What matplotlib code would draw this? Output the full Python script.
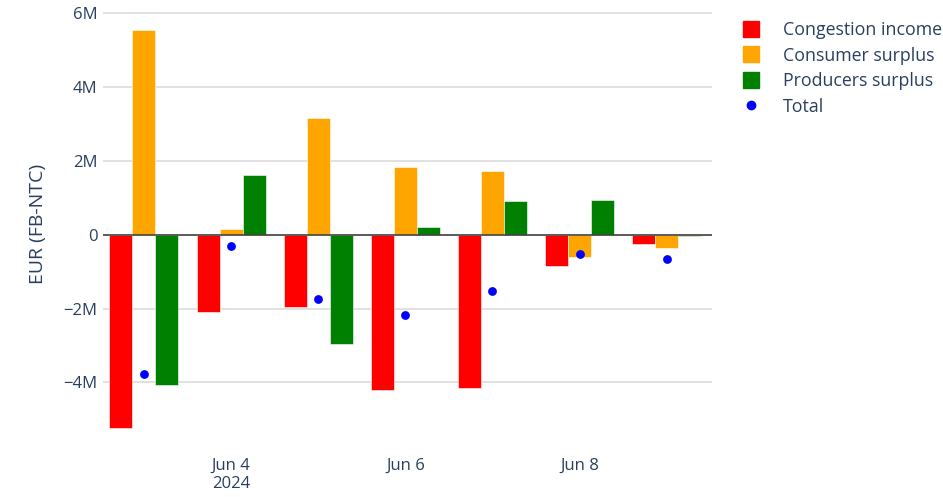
import numpy as np
import pandas as pd
import matplotlib
matplotlib.use("Agg")
import matplotlib.pyplot as plt
import matplotlib.dates as mdates
from matplotlib.lines import Line2D

# daily values, EUR
days = pd.date_range("2024-06-03", "2024-06-09", freq="D")
congestion = [-5.24e6, -2.10e6, -1.96e6, -4.21e6, -4.15e6, -0.84e6, -0.26e6]
consumer = [5.55e6, 0.16e6, 3.16e6, 1.83e6, 1.73e6, -0.61e6, -0.35e6]
producers = [-4.07e6, 1.62e6, -2.96e6, 0.20e6, 0.90e6, 0.94e6, -0.04e6]
total = [-3.77e6, -0.31e6, -1.74e6, -2.18e6, -1.52e6, -0.51e6, -0.67e6]

xtick_dates = ["2024-06-04", "2024-06-06", "2024-06-08"]
xtick_labels = ["Jun 4\n2024", "Jun 6", "Jun 8"]
ytick_vals = [-4e6, -2e6, 0, 2e6, 4e6, 6e6]
ytick_labels = ["\u22124M", "\u22122M", "0", "2M", "4M", "6M"]

plt.rcParams['font.family'] = ['Open Sans', 'DejaVu Sans']
txt = "#2a3f5f"

fig = plt.figure(figsize=(9.43, 4.97), dpi=100)
ax = fig.add_axes([103/943, 1 - 440/497, (712-103)/943, (440-8)/497])

x = mdates.date2num(days)
w = 0.264
series = [(congestion, "#ff0000", "Congestion income", -w),
          (consumer, "#ffa500", "Consumer surplus", 0),
          (producers, "#008000", "Producers surplus", w)]
for vals, col, name, off in series:
    ax.bar(x + off, vals, width=w, color=col, edgecolor="white", linewidth=0.4, zorder=3)
ax.scatter(x, total, s=40, color="#0000ff", zorder=4, linewidths=0)

ax.axhline(0, color="#444444", linewidth=1.2, zorder=3.5)
ax.set_xlim(x[0] - 0.47, x[-1] + 0.52)
ax.set_ylim(-5.56e6, 6.14e6)

ax.set_yticks(ytick_vals)
ax.set_yticklabels(ytick_labels)
ax.set_xticks(mdates.date2num(pd.to_datetime(xtick_dates)))
ax.set_xticklabels(xtick_labels, linespacing=1.15)
ax.tick_params(axis="both", length=0, labelsize=12, colors=txt)
ax.tick_params(axis="x", pad=13)
ax.tick_params(axis="y", pad=4)
ax.grid(axis="y", color="#dcdcdc", linewidth=1.2, zorder=0)
ax.set_axisbelow(True)
for s in ax.spines.values():
    s.set_visible(False)
ax.set_ylabel("EUR (FB-NTC)", fontsize=14, color=txt, labelpad=12)

handles = [Line2D([], [], marker="s", linestyle="none", markersize=12, color=c, label=n)
           for _, c, n, _ in series]
handles.append(Line2D([], [], marker="o", linestyle="none", markersize=6, color="#0000ff", label="Total"))
leg = fig.legend(handles=handles, loc="upper left", bbox_to_anchor=(731/943, 1 - 14/497),
                 frameon=False, fontsize=12.8, labelcolor=txt, handletextpad=1.0,
                 labelspacing=0.42, handlelength=1.5, borderaxespad=0)

fig.savefig("out.png", dpi=100)
